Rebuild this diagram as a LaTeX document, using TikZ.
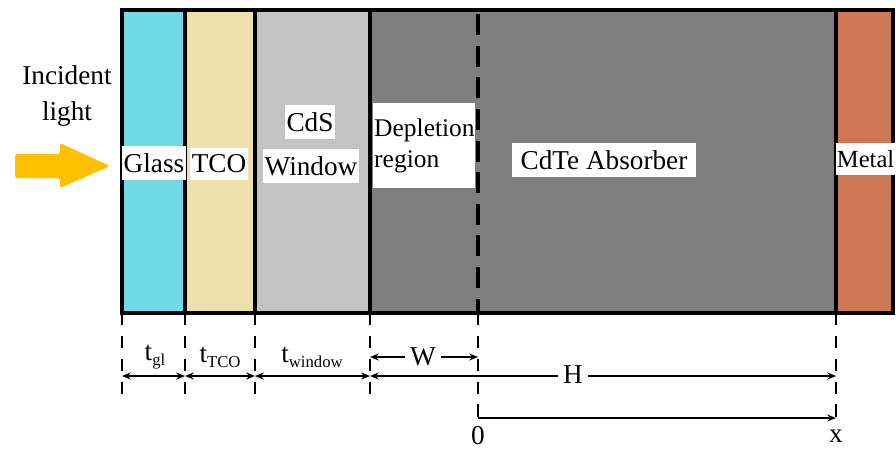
\documentclass[tikz,border=0pt]{standalone}
\usepackage{fontspec}
\setmainfont{Liberation Serif}
\usetikzlibrary{arrows.meta}

\definecolor{glasscol}{RGB}{114,217,230}
\definecolor{tcocol}{RGB}{238,224,172}
\definecolor{cdscol}{RGB}{195,195,195}
\definecolor{cdtecol}{RGB}{127,127,127}
\definecolor{metalcol}{RGB}{205,120,82}
\definecolor{lightcol}{RGB}{255,192,0}

\newcommand{\lsub}[1]{\raisebox{-0.4ex}{\fontsize{9.5}{9.5}\selectfont #1}}

\tikzset{
  lbl/.style={fill=white, inner xsep=1pt, inner ysep=4pt, font=\fontsize{15.5}{17.6}\selectfont},
  txt/.style={inner sep=1pt, font=\fontsize{15.5}{20.4}\selectfont},
  sep/.style={line width=1.8pt},
  ext/.style={line width=1.2pt, dash pattern=on 7pt off 6pt},
  dim/.style={line width=0.9pt, {Stealth[length=5pt,width=4pt]}-{Stealth[length=5pt,width=4pt]}},
  dimr/.style={line width=0.9pt, -{Stealth[length=5pt,width=4pt]}},
}

\begin{document}
\begin{tikzpicture}[x=0.02cm, y=-0.02cm]
        \useasboundingbox (0,0) rectangle (896,450);

        \coordinate (g0) at (122,313);
        \coordinate (g1) at (185,313);
        \coordinate (g2) at (255,313);
        \coordinate (g3) at (370,313);
        \coordinate (g4) at (478,313);
        \coordinate (g5) at (836,313);

        \fill[glasscol] (122,10) rectangle (185,313);
        \fill[tcocol]   (185,10) rectangle (255,313);
        \fill[cdscol]   (255,10) rectangle (370,313);
        \fill[cdtecol]  (370,10) rectangle (836,313);
        \fill[metalcol] (836,10) rectangle (893,313);

        \draw[sep] (185,10) -- (g1);
        \draw[sep] (255,10) -- (g2);
        \draw[sep] (370,10) -- (g3);
        \draw[sep] (836,10) -- (g5);
        \draw[line width=2pt, dash pattern=on 12pt off 6pt] (478,14) -- (g4);
        \draw[line width=2.5pt] (122,10) rectangle (893,313);

        \fill[lightcol, rounded corners=1pt] (15,154) -- (60,154) -- (60,143) -- (110,166)
              -- (60,188) -- (60,178) -- (15,178) -- cycle;
        \node[txt, align=center] (light) at (67,96) {Incident\\light};

        \node[lbl] (glass) at (154,163) {Glass};
        \node[lbl] (tco) at (219,164) {TCO};
        \node[lbl] (cds) at (310,122) {CdS};
        \node[lbl] (window) at (311,166) {Window};
        \node[lbl, anchor=north west, align=left, text width=57pt, minimum height=48pt,
              inner xsep=0.5pt, font=\fontsize{14.5}{17.6}\selectfont] (depl) at (373,103)
              {Depletion\\region};
        \node[lbl, inner xsep=5pt] (absorber) at (604,160) {CdTe Absorber};
        \node[lbl, anchor=west, inner xsep=0.3pt, font=\fontsize{14}{17}\selectfont] (metal)
              at (836,159) {Metal};

        \coordinate (e0) at (122,402);
        \coordinate (e1) at (185,402);
        \coordinate (e2) at (255,402);
        \coordinate (e3) at (370,402);
        \coordinate (e4) at (478,418);
        \coordinate (e5) at (836,420);

        \draw[ext] (g0) -- (e0);
        \draw[ext] (g1) -- (e1);
        \draw[ext] (g2) -- (e2);
        \draw[ext] (g3) -- (e3);
        \draw[ext] (g4) -- (e4);
        \draw[ext] (g5) -- (e5);

        \draw[dim] (122,376) -- (185,376);
        \draw[dim] (185,376) -- (255,376);
        \draw[dim] (255,376) -- (370,376);
        \draw[dim] (370,376) -- (836,376);
        \draw[dim] (370,357) -- (478,357);
        \draw[dimr] (e4) -- (836,418);

        \node[txt] (tgl) at (155,357) {t\lsub{gl}};
        \node[txt] (ttco) at (220,357) {t\lsub{TCO}};
        \node[txt] (twin) at (312,357) {t\lsub{window}};
        \node[txt, fill=white, inner xsep=3pt] (wlbl) at (423,357) {W};
        \node[txt, fill=white, inner xsep=3pt] (hlbl) at (573,375) {H};
        \node[txt] (zero) at (478,436) {0};
        \node[txt] (xlbl) at (836,436) {x};
\end{tikzpicture}
\end{document}
